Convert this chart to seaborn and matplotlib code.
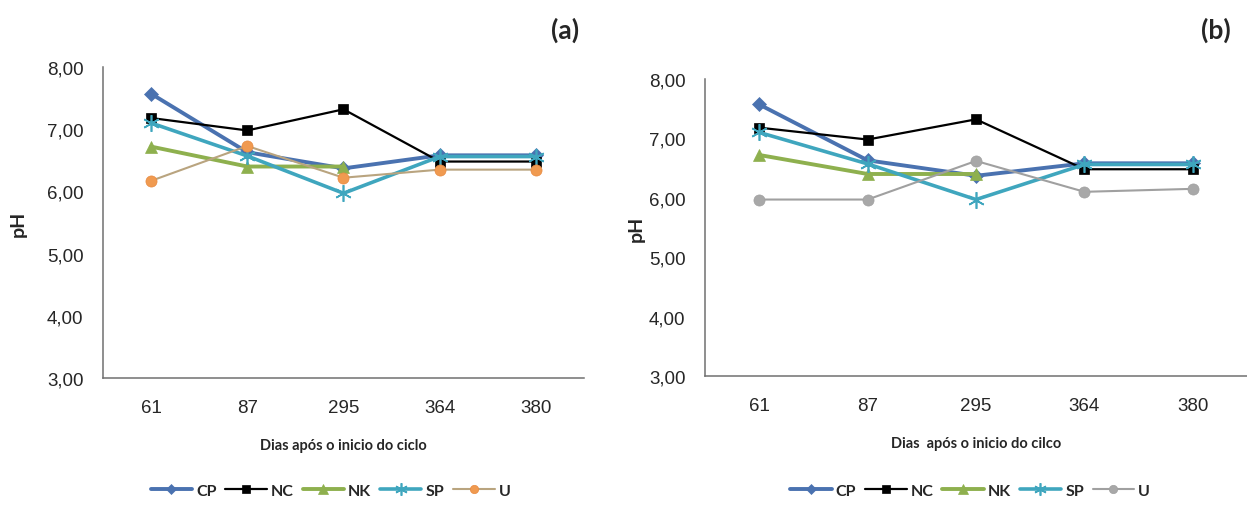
import numpy as np
import matplotlib
matplotlib.use("Agg")
import matplotlib.pyplot as plt
import seaborn as sns

# ------------------------------------------------------------------
# Data
# ------------------------------------------------------------------
dias = ["61", "87", "295", "364", "380"]
y_ticks = [3, 4, 5, 6, 7, 8]
y_tick_labels = ["3,00", "4,00", "5,00", "6,00", "7,00", "8,00"]

cp = [7.57, 6.63, 6.37, 6.58, 6.58]
nc = [7.18, 6.98, 7.32, 6.48, 6.48]
nk = [6.72, 6.40, 6.40, np.nan, np.nan]
sp = [7.10, 6.57, 5.97, 6.56, 6.56]
u_a = [6.17, 6.73, 6.22, 6.35, 6.35]
u_b = [5.97, 5.97, 6.62, 6.10, 6.15]

series_names = ["CP", "NC", "NK", "SP", "U"]

# ------------------------------------------------------------------
# Setup
# ------------------------------------------------------------------
sns.set_style("white")
plt.rcParams["font.family"] = ["Liberation Sans", "DejaVu Sans"]
LABEL_FONT = ["Lato", "DejaVu Sans"]

styles = {
    "CP": dict(color="#4A72B0", marker="D", lw=2.8, ms=7),
    "NC": dict(color="#000000", marker="s", lw=1.6, ms=7),
    "NK": dict(color="#8EB04E", marker="^", lw=2.8, ms=9),
    "SP": dict(color="#3FA6BE", marker=(6, 2, 0), lw=2.6, ms=12),
}
u_style_a = dict(color="#B9A47F", mfc="#F09A50", mec="#E88A40", lw=1.5, ms=8)
u_style_b = dict(color="#A0A0A0", mfc="#A8A8A8", mec="#A0A0A0", lw=1.5, ms=8)

fig = plt.figure(figsize=(12.47, 5.06), dpi=100)
ax_a = fig.add_axes([0.0826, 0.251, 0.3857, 0.6146])
ax_b = fig.add_axes([0.5654, 0.255, 0.4346, 0.587])

x = np.arange(len(dias))


def draw_panel(ax, u_vals, u_style, xlabel, legend_x):
    for name, vals in zip(series_names[:4], [cp, nc, nk, sp]):
        st = styles[name]
        sns.lineplot(x=x, y=vals, ax=ax, color=st["color"], marker=st["marker"],
                     linewidth=st["lw"], markersize=st["ms"], markeredgecolor=st["color"],
                     markeredgewidth=1.2 if name == "SP" else 0.5, label=name)
    sns.lineplot(x=x, y=u_vals, ax=ax, color=u_style["color"], marker="o",
                 linewidth=u_style["lw"], markersize=u_style["ms"],
                 markerfacecolor=u_style["mfc"], markeredgecolor=u_style["mec"],
                 markeredgewidth=0.5, label="U")

    ax.set_xlim(-0.5, len(dias) - 0.5)
    ax.set_ylim(3, 8)
    ax.set_yticks(y_ticks)
    ax.set_yticklabels(y_tick_labels, fontsize=13.5)
    ax.set_xticks(x)
    ax.set_xticklabels(dias, fontsize=13.5)
    ax.set_xticks(np.arange(-0.5, len(dias), 1.0), minor=True)
    ax.tick_params(axis="x", which="major", length=0, pad=15)
    ax.tick_params(axis="x", which="minor", length=4, width=1, color="#707070", direction="out")
    ax.tick_params(axis="y", length=4, width=1, color="#707070", direction="out", pad=10)
    sns.despine(ax=ax)
    for s in ["left", "bottom"]:
        ax.spines[s].set_color("#707070")
        ax.spines[s].set_linewidth(1.1)

    ax.set_ylabel("pH", family=LABEL_FONT, fontweight="bold", fontsize=14)
    ax.set_xlabel(xlabel, family=LABEL_FONT, fontweight="bold", fontsize=10.5,
                  labelpad=16)

    ax.legend(loc="center", bbox_to_anchor=(legend_x, 0.028), bbox_transform=fig.transFigure,
              ncol=5, frameon=False, handlelength=2.6, handletextpad=0.25,
              columnspacing=0.55, markerscale=0.75,
              prop={"family": LABEL_FONT, "weight": "bold", "size": 11.5})


draw_panel(ax_a, u_a, u_style_a, "Dias após o inicio do ciclo", 0.265)
draw_panel(ax_b, u_b, u_style_b, "Dias  após o inicio do cilco", 0.778)

ax_a.yaxis.set_label_coords(-0.158, 0.5)
ax_b.yaxis.set_label_coords(-0.111, 0.5)

fig.text(0.453, 0.94, "(a)", family=LABEL_FONT, fontweight="bold",
         fontsize=19, ha="center", va="center")
fig.text(0.975, 0.94, "(b)", family=LABEL_FONT, fontweight="bold",
         fontsize=19, ha="center", va="center")

fig.savefig("out.png", dpi=100)
plt.close(fig)
